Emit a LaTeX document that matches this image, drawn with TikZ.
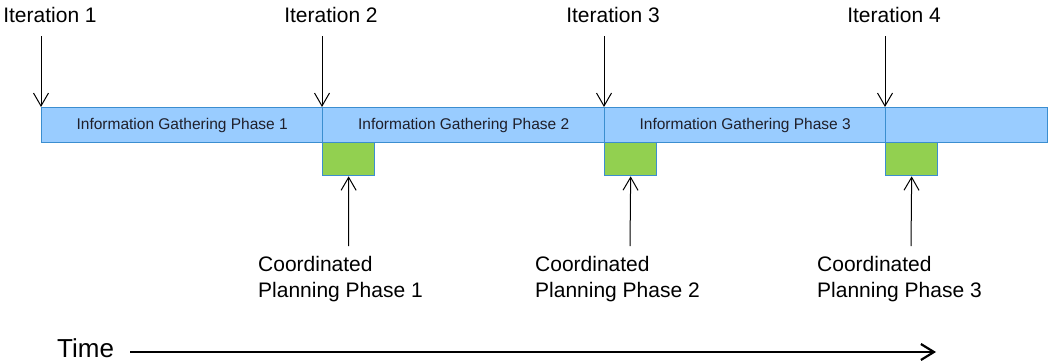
\documentclass[tikz,border=0pt]{standalone}
\usepackage{fontspec}
\setmainfont{Liberation Sans}
\usetikzlibrary{arrows.meta}
\definecolor{barfill}{HTML}{99CCFF}
\definecolor{barline}{HTML}{3B8ED0}
\definecolor{planfill}{HTML}{92D050}
\definecolor{inktext}{HTML}{1F1F2A}
\begin{document}
\begin{tikzpicture}[x=1pt,y=-1pt,
  phasebox/.style={draw=barline, fill=barfill, line width=1.3pt, inner sep=0pt,
    minimum height=35pt, anchor=north west, text=inktext,
    font=\fontsize{15.5}{18}\selectfont},
  planbox/.style={draw=barline, fill=planfill, line width=1.3pt, inner sep=0pt,
    minimum width=52pt, minimum height=33pt, anchor=north west},
  itlabel/.style={anchor=base, inner sep=0pt, font=\fontsize{21}{25}\selectfont},
  cplabel/.style={anchor=north west, inner sep=0pt, align=left,
    font=\fontsize{21}{26}\selectfont},
  marker/.style={line width=1pt, -{Straight Barb[length=13pt,width=15pt]}},
]
\useasboundingbox (0,0) rectangle (1048,362);

% information gathering bar
\node[phasebox, minimum width=281pt] (p1) at (41,107) {Information Gathering Phase 1};
\node[phasebox, minimum width=282pt] (p2) at (322,107) {Information Gathering Phase 2};
\node[phasebox, minimum width=281pt] (p3) at (604,107) {Information Gathering Phase 3};
\node[phasebox, minimum width=162pt] (p4) at (885,107) {};

% coordinated planning blocks
\node[planbox] (g1) at (322,142) {};
\node[planbox] (g2) at (604,142) {};
\node[planbox] (g3) at (885,142) {};

% iteration labels and markers
\node[itlabel] (it1) at (50,22) {Iteration 1};
\node[itlabel] (it2) at (331,22) {Iteration 2};
\node[itlabel] (it3) at (613,22) {Iteration 3};
\node[itlabel] (it4) at (894,22) {Iteration 4};
\coordinate (t1) at (41,36);
\coordinate (t2) at (322,36);
\coordinate (t3) at (604,36);
\coordinate (t4) at (885,36);
\draw[marker] (t1) -- (p1.north west);
\draw[marker] (t2) -- (p2.north west);
\draw[marker] (t3) -- (p3.north west);
\draw[marker] (t4) -- (p4.north west);

% planning labels and markers
\node[cplabel] (c1) at (258,256) {Coordinated\\Planning Phase 1};
\node[cplabel] (c2) at (535,256) {Coordinated\\Planning Phase 2};
\node[cplabel] (c3) at (817,256) {Coordinated\\Planning Phase 3};
\coordinate (b1) at (348.5,246);
\coordinate (b2) at (630,246);
\coordinate (b3) at (911,246);
\draw[marker] (b1) -- (g1.south);
\draw[marker] (b2) -- (g2.south);
\draw[marker] (b3) -- (g3.south);

% time axis
\node[anchor=base west, inner sep=0pt, font=\fontsize{26}{30}\selectfont] (time) at (57,357.5) {Time};
\coordinate (tstart) at (130,352);
\coordinate (tend) at (936,352);
\draw[line width=2.2pt, -{Straight Barb[length=13pt,width=16pt]}] (tstart) -- (tend);
\end{tikzpicture}
\end{document}
